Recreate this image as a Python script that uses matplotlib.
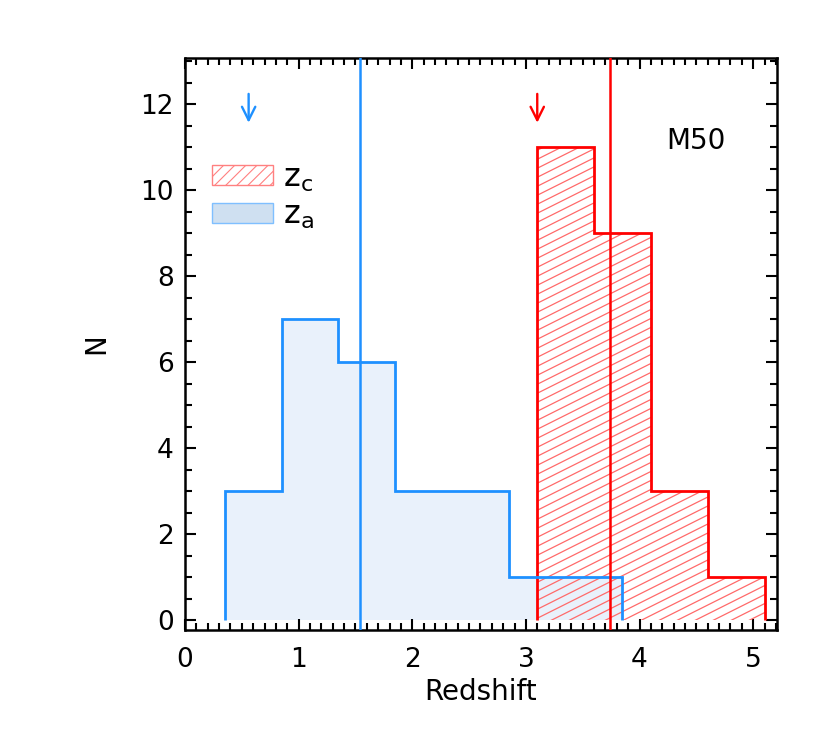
import numpy as np
import matplotlib
matplotlib.use("Agg")
import matplotlib.pyplot as plt
from matplotlib.patches import Patch
from matplotlib.ticker import MultipleLocator

# Histogram data
za_edges = [0.35, 0.85, 1.35, 1.85, 2.35, 2.85, 3.35, 3.85]
za_counts = [3, 7, 6, 3, 3, 1, 1]
zc_edges = [3.1, 3.6, 4.1, 4.6, 5.1]
zc_counts = [11, 9, 3, 1]

# median lines and arrow markers
za_median = 1.54
zc_median = 3.74
za_arrow = 0.56
zc_arrow = 3.1

blue = "#1e90ff"
red = "#ff0000"

plt.rcParams["font.family"] = ["DejaVu Sans"]
plt.rcParams["hatch.linewidth"] = 0.8

fig = plt.figure(figsize=(8.3, 7.48), dpi=100)
ax = fig.add_axes([185 / 830, 1 - 630 / 748, 592 / 830, 572 / 748])

# z_a filled histogram
ax.stairs(za_counts, za_edges, fill=True, facecolor="#e9f1fb", edgecolor="none",
          linewidth=0, zorder=1)
# z_c hatched histogram: shallow hatch lines clipped to the step shape
zc_fill = ax.stairs(zc_counts, zc_edges, fill=True, facecolor="none",
                    edgecolor="none", linewidth=0, zorder=2)
slope = 0.5 * 592 / 572        # in axes fraction units
step = 9 / 572
for c in np.arange(-1.2, 1.0, step):
    ln, = ax.plot([0, 1], [c, c + slope], transform=ax.transAxes,
                  color="#ff6a6a", linewidth=0.9, zorder=2)
    ln.set_clip_path(zc_fill)

ax.stairs(zc_counts, zc_edges, color=red, linewidth=2, zorder=3)
ax.stairs(za_counts, za_edges, color=blue, linewidth=2, zorder=4)

ax.axvline(za_median, color=blue, linewidth=1.8, zorder=5)
ax.axvline(zc_median, color=red, linewidth=1.8, zorder=5)

# arrows
for xa, c in [(za_arrow, blue), (zc_arrow, red)]:
    ax.annotate("", xy=(xa, 11.5), xytext=(xa, 12.3),
                arrowprops=dict(arrowstyle="->", color=c, lw=1.7, mutation_scale=24))

ax.text(4.5, 11.15, "M50", fontsize=20, ha="center", va="center")

handles = [Patch(facecolor="none", edgecolor="#ff8080", hatch="///", linewidth=1),
           Patch(facecolor="#cfe0f1", edgecolor="#7fbfff", linewidth=1)]
ax.legend(handles, [r"$\mathsf{z_c}$", r"$\mathsf{z_a}$"], loc="upper left",
          bbox_to_anchor=(0.045, 0.818), frameon=False, fontsize=23,
          handlelength=1.93, handleheight=0.58, handletextpad=0.3, labelspacing=0.2,
          borderaxespad=0, borderpad=0)

ax.set_xlim(0, 5.21)
ax.set_ylim(-0.23, 13.07)
ax.xaxis.set_major_locator(MultipleLocator(1))
ax.xaxis.set_minor_locator(MultipleLocator(0.1))
ax.yaxis.set_major_locator(MultipleLocator(2))
ax.yaxis.set_minor_locator(MultipleLocator(0.5))
ax.tick_params(which="both", direction="in", top=True, right=True, width=1.5)
ax.tick_params(which="major", length=8, labelsize=19)
ax.tick_params(which="minor", length=5)
ax.tick_params(axis="x", which="major", pad=12)
ax.tick_params(axis="y", which="major", pad=8)
for s in ax.spines.values():
    s.set_linewidth(1.8)

ax.set_xlabel("Redshift", fontsize=20, labelpad=4)
ax.set_ylabel("N", fontsize=20, labelpad=22)

fig.savefig("out.png", dpi=100)
